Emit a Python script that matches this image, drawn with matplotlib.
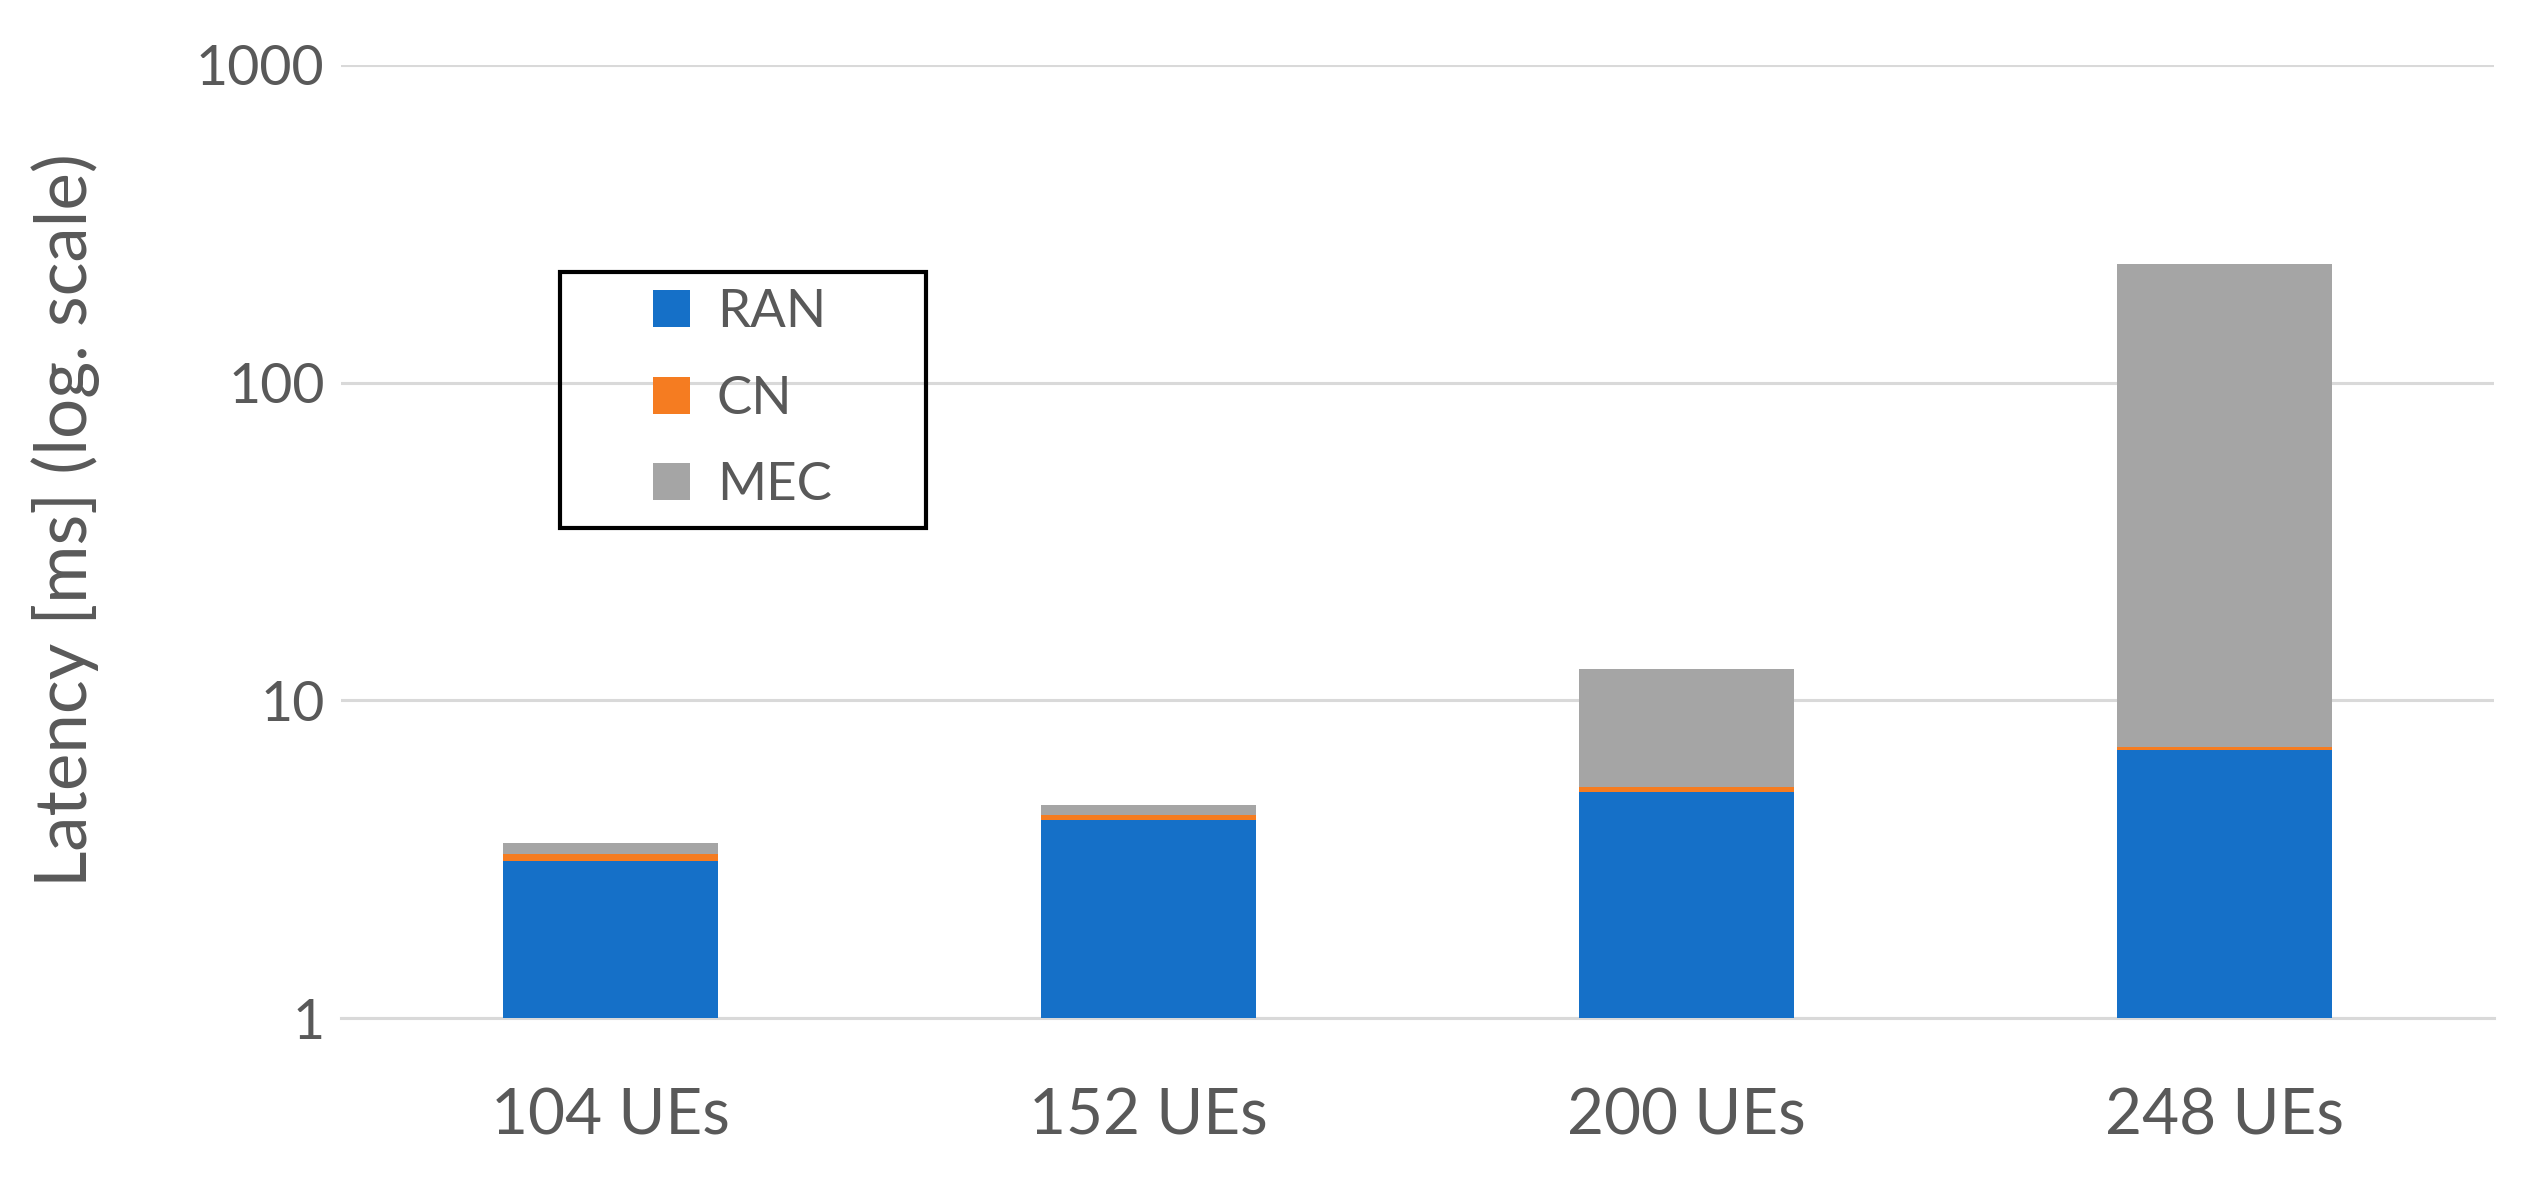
import matplotlib.pyplot as plt
import matplotlib.patches as mpatches
import numpy as np

plt.rcParams['font.family'] = ['Lato', 'DejaVu Sans']

labels = ['104 UEs', '152 UEs', '200 UEs', '248 UEs']
ran = [3.12, 4.19, 5.14, 7.0]
cn = [0.16, 0.18, 0.19, 0.15]
mec = [0.27, 0.30, 7.2, 229.0]

c_ran = '#1570c8'
c_cn = '#f57c21'
c_mec = '#a5a5a5'
txt = '#595959'

fig = plt.figure(figsize=(25.47, 11.81), dpi=100)
ax = fig.add_axes([0.134, 0.138, 0.845, 0.807])

x = np.arange(len(labels))
w = 0.40
ran = np.array(ran)
cn = np.array(cn)
mec = np.array(mec)
ax.bar(x, ran, w, bottom=1e-9, color=c_ran, label='RAN', zorder=3)
ax.bar(x, cn, w, bottom=ran, color=c_cn, label='CN', zorder=3)
ax.bar(x, mec, w, bottom=ran + cn, color=c_mec, label='MEC', zorder=3)

ax.set_yscale('log')
ax.set_ylim(1, 1000)
ax.set_xlim(-0.5, 3.5)
ax.set_yticks([1, 10, 100, 1000])
ax.set_yticklabels(['1', '10', '100', '1000'])
ax.minorticks_off()
ax.set_xticks(x)
ax.set_xticklabels(labels)

ax.grid(axis='y', color='#d9d9d9', linewidth=2.2, zorder=0)
for s in ['top', 'right', 'left']:
    ax.spines[s].set_visible(False)
ax.spines['bottom'].set_color('#d9d9d9')
ax.spines['bottom'].set_linewidth(2.2)
ax.tick_params(axis='both', length=0, colors=txt)
ax.tick_params(axis='x', pad=50, labelsize=46)
ax.tick_params(axis='y', pad=12, labelsize=40)

ax.set_ylabel('Latency [ms] (log. scale)', fontsize=51, color=txt, va='center')
ax.yaxis.set_label_coords(-0.128, 0.523)

# legend: entries centred inside a wider black box
leg = fig.legend(*ax.get_legend_handles_labels(), loc='center',
                 bbox_to_anchor=(0.2915, 0.662), fontsize=38, frameon=False,
                 handlelength=0.7, handleheight=0.7, labelspacing=0.75,
                 handletextpad=0.5, borderpad=0)
for t in leg.get_texts():
    t.set_color(txt)
box = mpatches.Rectangle((0.220, 0.553), 0.1435, 0.217, transform=fig.transFigure,
                         fill=False, edgecolor='black', linewidth=3, zorder=5)
fig.add_artist(box)

fig.savefig('out.png', dpi=100)
